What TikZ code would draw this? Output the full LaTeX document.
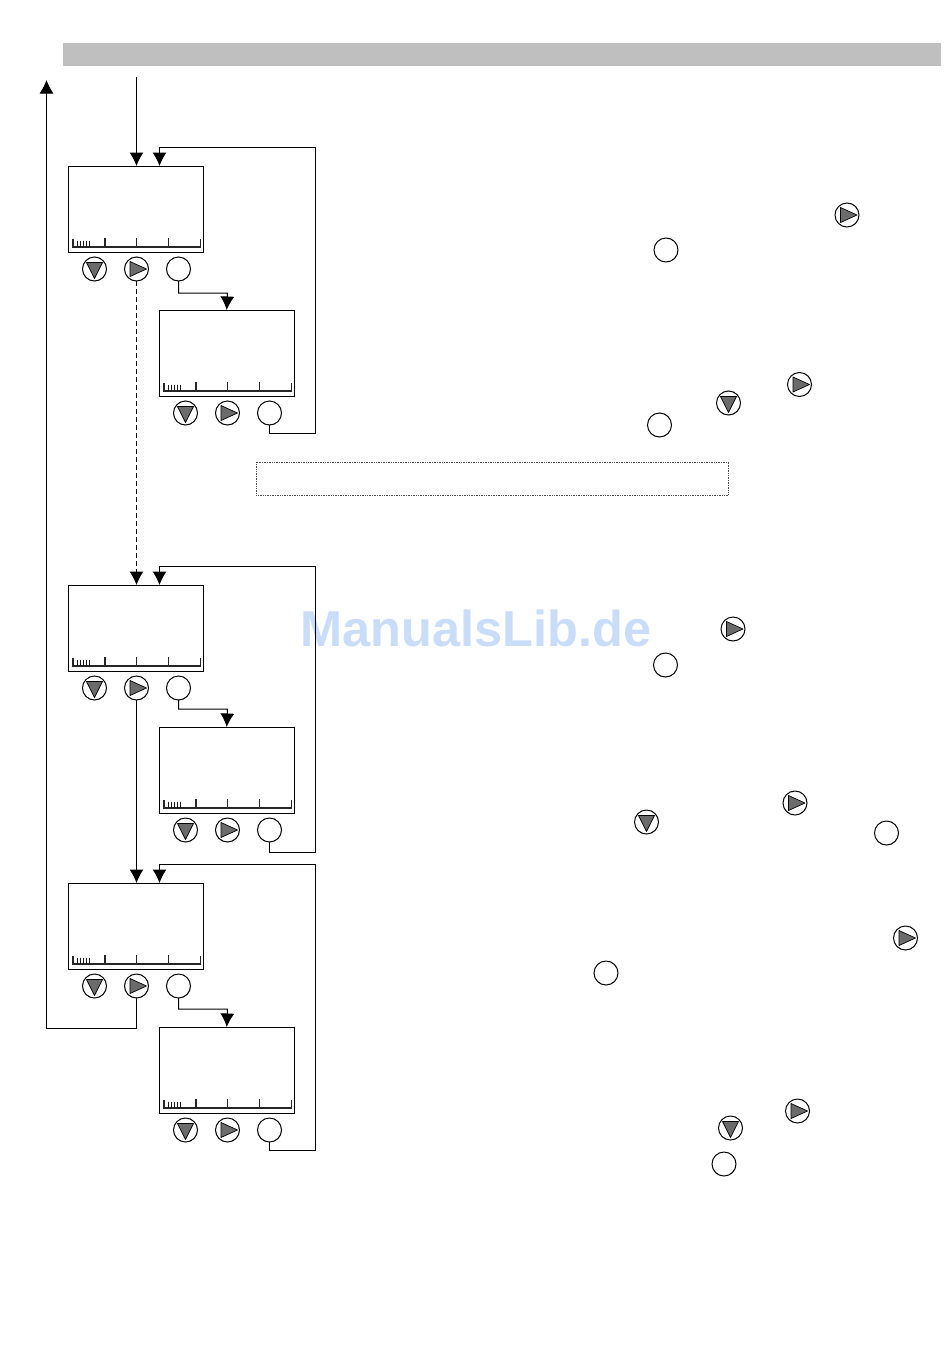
\documentclass[tikz,border=0pt]{standalone}
\usepackage{fontspec}
\setmainfont{Liberation Sans}
\usetikzlibrary{arrows.meta}
\tikzset{
  ln/.style={line width=1pt,black},
  flow/.style={ln,-{Latex[length=13.5pt,width=14pt]}},
  screenbox/.style={draw,ln,rectangle,minimum width=135.5pt,minimum height=86pt,inner sep=0pt,outer sep=0pt},
  keybtn/.style={draw,ln,circle,minimum size=24pt,inner sep=0pt,outer sep=0pt,fill=white},
  tri/.style={draw=black,line width=0.7pt,fill=black!58,line join=round},
  tick/.style={line width=1.1pt,black!85},
  minor/.style={line width=0.8pt,black!90}
}
\newcommand{\keyO}[3]{\node[keybtn] (#1) at (#2,#3) {};}
\newcommand{\keyR}[3]{\node[keybtn] (#1) at (#2,#3) {};
  \draw[tri] (#2-6.5,#3-7.5) -- (#2+10,#3) -- (#2-6.5,#3+7.5) -- cycle;}
\newcommand{\keyD}[3]{\node[keybtn] (#1) at (#2,#3) {};
  \draw[tri] (#2-8,#3-6.5) -- (#2+8,#3-6.5) -- (#2,#3+9.5) -- cycle;}
\newcommand{\unit}[3]{% name, left x, top y
  \node[screenbox,anchor=north west] (#1) at (#2,#3) {};
  \draw[tick] (#2+5,#3+72.5) -- (#2+5,#3+81) -- (#2+132.5,#3+81) -- (#2+132.5,#3+72.5);
  \foreach \tx in {37,68.7,100.5} \draw[tick] (#2+\tx,#3+72) -- (#2+\tx,#3+81);
  \foreach \tx in {9,12,15,18,21} \draw[minor] (#2+\tx,#3+74.5) -- (#2+\tx,#3+81);
  \keyD{#1d}{#2+26.5}{#3+103}
  \keyR{#1r}{#2+68.5}{#3+103}
  \keyO{#1o}{#2+110.5}{#3+103}
  \coordinate (#1in) at (#2+91.5,#3);
  \coordinate (#1main) at (#2+68.5,#3);
}
\begin{document}
\begin{tikzpicture}[x=1pt,y=-1pt]
\useasboundingbox (0,0) rectangle (950,1360);
\fill[white] (0,0) rectangle (950,1360);
\node[draw=none,fill=black!25,rectangle,anchor=north west,minimum width=878pt,minimum height=23.5pt,inner sep=0pt] (bar) at (63,42.5) {};
\node[draw=black!70,densely dotted,line width=0.7pt,rectangle,anchor=north west,minimum width=472pt,minimum height=33pt,inner sep=0pt] (note) at (256,461.5) {};
\definecolor{wmark}{HTML}{C9DDF8}
\node[text=wmark,font=\bfseries\fontsize{50.5}{51}\selectfont,inner sep=0pt] (wm) at (476,628) {ManualsLib.de};

\unit{a}{68}{166}
\unit{b}{159}{310}
\unit{c}{68}{585}
\unit{d}{159}{727}
\unit{e}{68}{883}
\unit{f}{159}{1027}

% entry and return
\coordinate (start) at (136.5,77);
\draw[flow] (start) -- (amain);
\coordinate (backA) at (46.5,1028);
\coordinate (backB) at (46.5,80);
\draw[flow] (er.south) -- (136.5,1028) -- (backA) -- (backB);

% between levels
\draw[flow,dashed,dash pattern=on 5pt off 3pt] (ar.south) -- (cmain);
\draw[flow] (cr.south) -- (emain);

% enter sub-screens
\draw[flow] (ao.south) -- (178.5,293) -- (227.5,293) -- (b.north);
\draw[flow] (co.south) -- (178.5,709) -- (227.5,709) -- (d.north);
\draw[flow] (eo.south) -- (178.5,1009) -- (227.5,1009) -- (f.north);

% loops back
\draw[flow] (bo.south) -- (269.5,433) -- (315.5,433) -- (315.5,147.5) -- (159.5,147.5) -- (ain);
\draw[flow] (do.south) -- (269.5,852) -- (315.5,852) -- (315.5,566.5) -- (159.5,566.5) -- (cin);
\draw[flow] (fo.south) -- (269.5,1150) -- (315.5,1150) -- (315.5,864.5) -- (159.5,864.5) -- (ein);

% inline keys in the text column
\keyR{t1}{847}{215}
\keyO{t2}{666}{250}
\keyR{t3}{799.5}{384.5}
\keyD{t4}{728.5}{403}
\keyO{t5}{659.5}{425}
\keyR{t6}{733}{629}
\keyO{t7}{665.5}{665}
\keyR{t8}{795}{803}
\keyD{t9}{646.5}{822}
\keyO{t10}{886.5}{833}
\keyR{t11}{905.5}{938}
\keyO{t12}{606}{973}
\keyR{t13}{797.5}{1111}
\keyD{t14}{730.5}{1128}
\keyO{t15}{724}{1164}
\end{tikzpicture}
\end{document}
